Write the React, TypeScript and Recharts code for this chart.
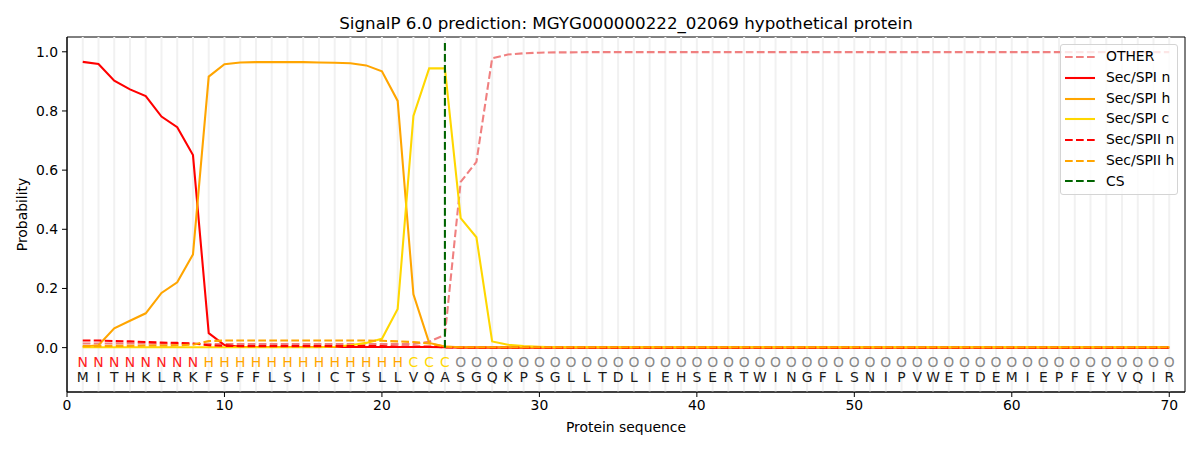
import { ComposedChart, Line, XAxis, YAxis, ReferenceLine, ReferenceArea } from "recharts";

// protein sequence and the per-residue predicted region
const residues = "MITHKLRKFSFFLSIICTSLLVQASGQKPSGLLTDLIEHSERTWINGFLSNIPVWETDEMIEPFEYVQIR".split("");
const regions = "NNNNNNNNHHHHHHHHHHHHHCCCOOOOOOOOOOOOOOOOOOOOOOOOOOOOOOOOOOOOOOOOOOOOOO".split("");

const otherProb = [
  0.014, 0.014, 0.014, 0.014, 0.014, 0.013, 0.013, 0.013, 0.012, 0.012,
  0.012, 0.012, 0.012, 0.012, 0.012, 0.012, 0.012, 0.012, 0.012, 0.012,
  0.012, 0.012, 0.02, 0.043, 0.56, 0.628, 0.978, 0.991, 0.995, 0.997,
  0.998, 0.998, 0.999, 0.999, 0.999, 0.999, 0.999, 0.999, 0.999, 0.999,
  0.999, 0.999, 0.999, 0.999, 0.999, 0.999, 0.999, 0.999, 0.999, 0.999,
  0.999, 0.999, 0.999, 0.999, 0.999, 0.999, 0.999, 0.999, 0.999, 0.999,
  0.999, 0.999, 0.999, 0.999, 0.999, 0.999, 0.999, 0.999, 0.999, 0.999,
];
const spiN = [
  0.966, 0.959, 0.902, 0.873, 0.85, 0.781, 0.745, 0.651, 0.049, 0.009,
  0.003, 0.002, 0.002, 0.002, 0.002, 0.002, 0.002, 0.002, 0.002, 0.002,
  0.002, 0.002, 0.002, 0.001, 0, 0, 0, 0, 0, 0,
  0, 0, 0, 0, 0, 0, 0, 0, 0, 0,
  0, 0, 0, 0, 0, 0, 0, 0, 0, 0,
  0, 0, 0, 0, 0, 0, 0, 0, 0, 0,
  0, 0, 0, 0, 0, 0, 0, 0, 0, 0,
];
const spiH = [
  0.003, 0.008, 0.065, 0.091, 0.116, 0.185, 0.221, 0.315, 0.916, 0.958,
  0.964, 0.965, 0.965, 0.965, 0.965, 0.964, 0.963, 0.961, 0.954, 0.934,
  0.834, 0.18, 0.016, 0.004, 0.001, 0.001, 0.001, 0.001, 0.001, 0.001,
  0.001, 0.001, 0.001, 0.001, 0.001, 0.001, 0.001, 0.001, 0.001, 0.001,
  0.001, 0.001, 0.001, 0.001, 0.001, 0.001, 0.001, 0.001, 0.001, 0.001,
  0.001, 0.001, 0.001, 0.001, 0.001, 0.001, 0.001, 0.001, 0.001, 0.001,
  0.001, 0.001, 0.001, 0.001, 0.001, 0.001, 0.001, 0.001, 0.001, 0.001,
];
const spiC = [
  0.001, 0.001, 0.001, 0.001, 0.001, 0.001, 0.001, 0.001, 0.001, 0.001,
  0.001, 0.001, 0.001, 0.001, 0.001, 0.001, 0.003, 0.008, 0.016, 0.03,
  0.131, 0.783, 0.944, 0.944, 0.438, 0.373, 0.021, 0.01, 0.005, 0.003,
  0.001, 0.001, 0.001, 0.001, 0.001, 0.001, 0.001, 0.001, 0.001, 0.001,
  0.001, 0.001, 0.001, 0.001, 0.001, 0.001, 0.001, 0.001, 0.001, 0.001,
  0.001, 0.001, 0.001, 0.001, 0.001, 0.001, 0.001, 0.001, 0.001, 0.001,
  0.001, 0.001, 0.001, 0.001, 0.001, 0.001, 0.001, 0.001, 0.001, 0.001,
];
const spiiN = [
  0.024, 0.024, 0.022, 0.021, 0.019, 0.017, 0.016, 0.014, 0.008, 0.006,
  0.005, 0.005, 0.005, 0.005, 0.005, 0.005, 0.005, 0.005, 0.005, 0.005,
  0.004, 0.004, 0.004, 0.001, 0, 0, 0, 0, 0, 0,
  0, 0, 0, 0, 0, 0, 0, 0, 0, 0,
  0, 0, 0, 0, 0, 0, 0, 0, 0, 0,
  0, 0, 0, 0, 0, 0, 0, 0, 0, 0,
  0, 0, 0, 0, 0, 0, 0, 0, 0, 0,
];
const spiiH = [
  0.005, 0.005, 0.006, 0.006, 0.007, 0.007, 0.008, 0.01, 0.022, 0.024,
  0.024, 0.024, 0.024, 0.024, 0.024, 0.024, 0.024, 0.024, 0.024, 0.023,
  0.021, 0.019, 0.014, 0.003, 0.001, 0.001, 0.001, 0.001, 0.001, 0.001,
  0.001, 0.001, 0.001, 0.001, 0.001, 0.001, 0.001, 0.001, 0.001, 0.001,
  0.001, 0.001, 0.001, 0.001, 0.001, 0.001, 0.001, 0.001, 0.001, 0.001,
  0.001, 0.001, 0.001, 0.001, 0.001, 0.001, 0.001, 0.001, 0.001, 0.001,
  0.001, 0.001, 0.001, 0.001, 0.001, 0.001, 0.001, 0.001, 0.001, 0.001,
];

// cleavage site marker
const csPos = 24;
const csSpan = [0, 1.04];

const xTicks = [0, 10, 20, 30, 40, 50, 60, 70];
const yTicks = [0, 0.2, 0.4, 0.6, 0.8, 1.0];

const regionColor: Record<string, string> = { N: "#ff2020", H: "#ffa500", C: "#ffd700", O: "#888888" };

const DASH = "7.7 3.3";
const LW = 2.08;

const series = [
  { key: "other", name: "OTHER", color: "#f08080", dash: true },
  { key: "spiN", name: "Sec/SPI n", color: "#ff0000", dash: false },
  { key: "spiH", name: "Sec/SPI h", color: "#ffa500", dash: false },
  { key: "spiC", name: "Sec/SPI c", color: "#ffd700", dash: false },
  { key: "spiiN", name: "Sec/SPII n", color: "#ff0000", dash: true },
  { key: "spiiH", name: "Sec/SPII h", color: "#ffa500", dash: true },
];

const rows = residues.map((aa, i) => ({
  pos: i + 1,
  aa,
  region: regions[i],
  other: otherProb[i],
  spiN: spiN[i],
  spiH: spiH[i],
  spiC: spiC[i],
  spiiN: spiiN[i],
  spiiH: spiiH[i],
}));

const csRows = csSpan.map((v) => ({ pos: csPos, cs: v }));

const FONT = "'DejaVu Sans', sans-serif";

function Legend() {
  const items = [...series, { key: "cs", name: "CS", color: "#006400", dash: true }];
  return (
    <div
      style={{
        position: "absolute",
        left: 1060,
        top: 44,
        width: 118,
        height: 151,
        boxSizing: "border-box",
        border: "1px solid #d4d4d4",
        borderRadius: 3,
        background: "rgba(255,255,255,0.8)",
        paddingTop: 2,
        fontSize: 13.9,
      }}
    >
      {items.map((s) => (
        <div key={s.key} style={{ display: "flex", alignItems: "center", height: 20.7 }}>
          <svg width={30} height={10} style={{ marginLeft: 4, marginRight: 11 }}>
            <line x1={0} x2={30} y1={5} y2={5} stroke={s.color} strokeWidth={LW} strokeDasharray={s.dash ? DASH : undefined} />
          </svg>
          <span style={{ color: "#000", lineHeight: 1 }}>{s.name}</span>
        </div>
      ))}
    </div>
  );
}

export default function App() {
  return (
    <div style={{ position: "absolute", left: 0, top: 0, width: 1200, height: 450, fontFamily: FONT, background: "#fff" }}>
      <ComposedChart width={1200} height={450} data={rows} margin={{ top: 37, right: 15, bottom: 0, left: 0 }}>
        <XAxis
          dataKey="pos"
          type="number"
          domain={[0, 71]}
          ticks={xTicks}
          allowDataOverflow
          height={58}
          stroke="#000"
          tickSize={5}
          tickMargin={3}
          tick={{ fill: "#000", fontSize: 13.9 }}
        />
        <YAxis
          type="number"
          domain={[-0.15, 1.05]}
          ticks={yTicks}
          allowDataOverflow
          width={67}
          stroke="#000"
          tickSize={5}
          tickMargin={4}
          tickFormatter={(v: number) => v.toFixed(1)}
          tick={{ fill: "#000", fontSize: 13.9 }}
        />
        {rows.map((r) => (
          <ReferenceLine key={`g${r.pos}`} x={r.pos} stroke="#f1f1f1" strokeWidth={2} />
        ))}
        {series.map((s) => (
          <Line
            key={s.key}
            dataKey={s.key}
            name={s.name}
            stroke={s.color}
            strokeWidth={LW}
            strokeDasharray={s.dash ? DASH : undefined}
            dot={false}
            activeDot={false}
            type="linear"
            isAnimationActive={false}
          />
        ))}
        <Line
          dataKey={() => -0.047}
          stroke="none"
          isAnimationActive={false}
          activeDot={false}
          dot={(p: any) => (
            <text key={`l${p.index}`} x={p.cx} y={p.cy} textAnchor="middle" dominantBaseline="central" fontSize={13.9} fill={regionColor[p.payload.region]}>
              {p.payload.region}
            </text>
          )}
        />
        <Line
          dataKey={() => -0.1}
          stroke="none"
          isAnimationActive={false}
          activeDot={false}
          dot={(p: any) => (
            <text key={`a${p.index}`} x={p.cx} y={p.cy} textAnchor="middle" dominantBaseline="central" fontSize={13.9} fill="#1a1a1a">
              {p.payload.aa}
            </text>
          )}
        />
        <Line
          data={csRows}
          dataKey="cs"
          stroke="#006400"
          strokeWidth={LW}
          strokeDasharray={DASH}
          dot={false}
          activeDot={false}
          isAnimationActive={false}
        />
        <ReferenceArea x1={0} x2={71} y1={-0.15} y2={1.05} fill="none" stroke="#000" strokeWidth={1} ifOverflow="visible" />
      </ComposedChart>
      <svg width={1200} height={450} style={{ position: "absolute", left: 0, top: 0, pointerEvents: "none" }}>
        <text x={626} y={29} textAnchor="middle" fontSize={16.7} fill="#000">
          SignalP 6.0 prediction: MGYG000000222_02069 hypothetical protein
        </text>
        <text x={626} y={427} textAnchor="middle" dominantBaseline="central" fontSize={13.9} fill="#000">
          Protein sequence
        </text>
        <text x={22} y={214.5} textAnchor="middle" dominantBaseline="central" fontSize={13.9} fill="#000" transform="rotate(-90 22 214.5)">
          Probability
        </text>
      </svg>
      <Legend />
    </div>
  );
}
